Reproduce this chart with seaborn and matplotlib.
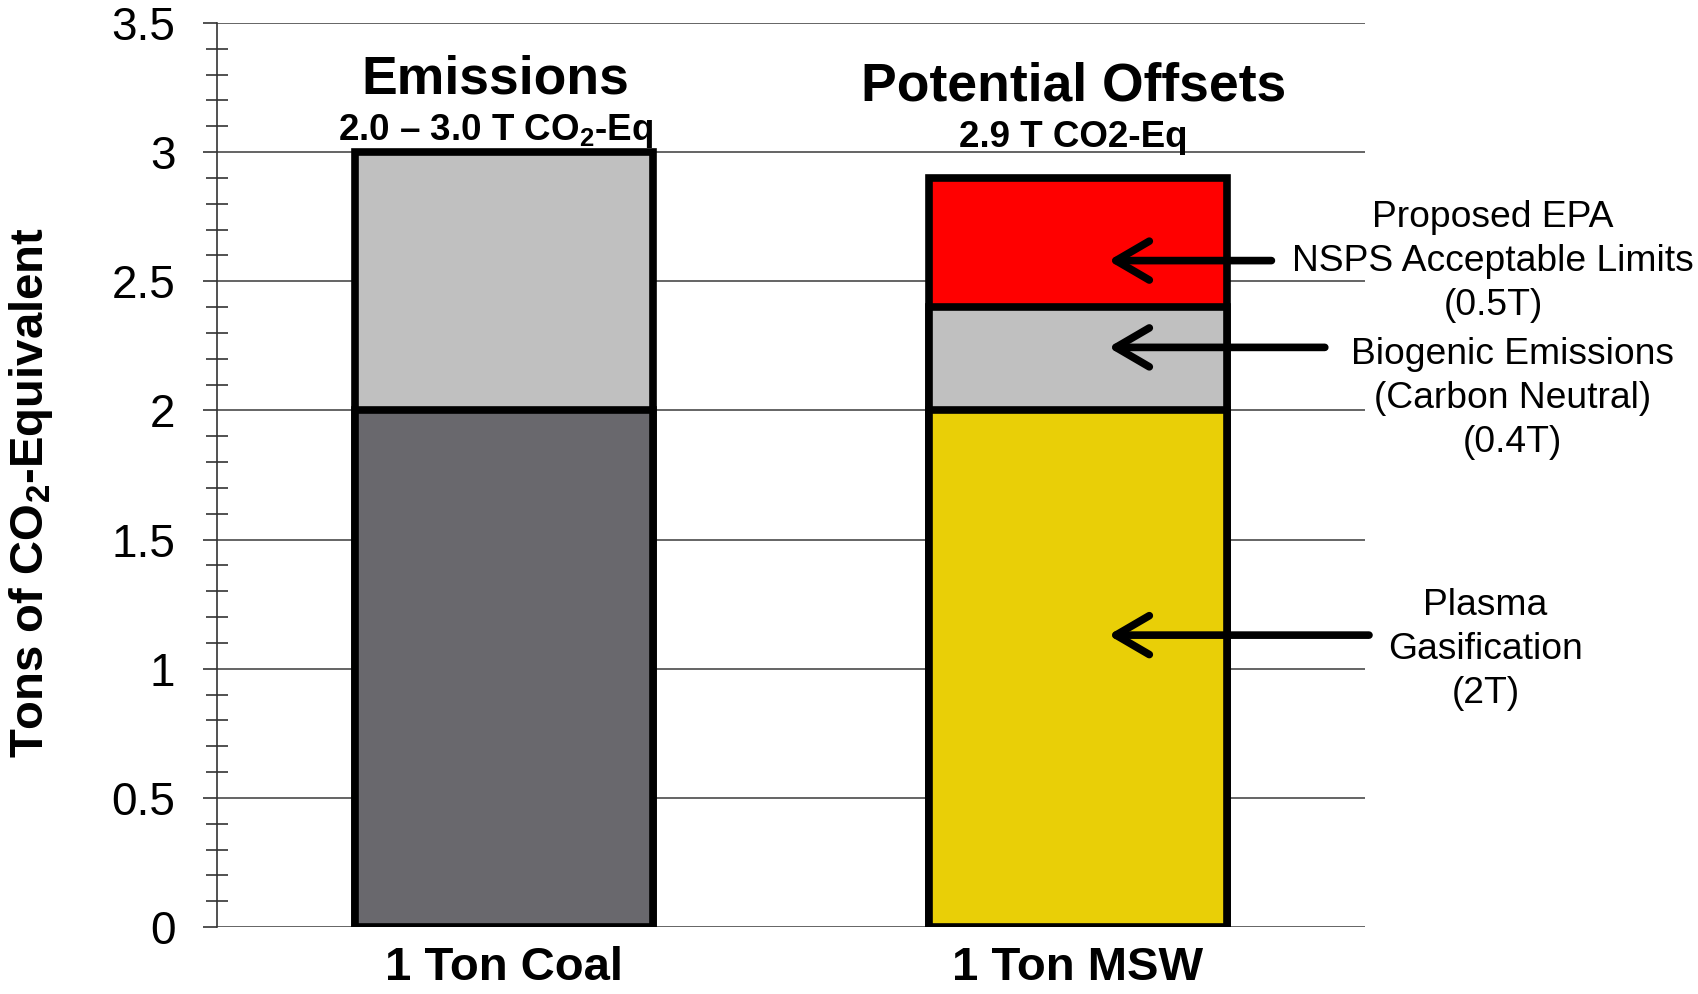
import numpy as np
import pandas as pd
import matplotlib
matplotlib.use('Agg')
import matplotlib.pyplot as plt
import seaborn as sns
from matplotlib.ticker import MultipleLocator

# Values
categories = ['1 Ton Coal', '1 Ton MSW']
coal_parts = [2.0, 1.0]
coal_colors = ['#69686d', '#c0c0c0']
msw_parts = [2.0, 0.4, 0.5]
msw_colors = ['#e9cf07', '#c0c0c0', '#ff0000']

yticks = [0, 0.5, 1, 1.5, 2, 2.5, 3, 3.5]
ytick_labels = ['0', '0.5', '1', '1.5', '2', '2.5', '3', '3.5']

titles = ['Emissions', 'Potential Offsets']
subtitles = [r'2.0 – 3.0 T CO$_\mathbf{2}$-Eq', '2.9 T CO2-Eq']
notes = ['Proposed EPA\nNSPS Acceptable Limits\n(0.5T)',
         'Biogenic Emissions\n(Carbon Neutral)\n(0.4T)',
         'Plasma\nGasification\n(2T)']

sns.set_style('white')
plt.rcParams['font.family'] = ['Liberation Sans', 'DejaVu Sans']
plt.rcParams['mathtext.fontset'] = 'custom'
plt.rcParams['mathtext.rm'] = 'Liberation Sans'
plt.rcParams['mathtext.bf'] = 'Liberation Sans:bold'
plt.rcParams['text.color'] = 'black'
plt.rcParams['axes.labelcolor'] = 'black'
plt.rcParams['xtick.color'] = 'black'
plt.rcParams['ytick.color'] = 'black'

# stacked segments -> cumulative tops, drawn tallest first
rows = []
for cat, parts, cols in [(categories[0], coal_parts, coal_colors),
                         (categories[1], msw_parts, msw_colors)]:
    for top, col in zip(np.cumsum(parts), cols):
        rows.append({'category': cat, 'top': top, 'color': col})
df = pd.DataFrame(rows).sort_values('top', ascending=False)

fig = plt.figure(figsize=(16.99, 9.94), dpi=100)
ax = fig.add_axes([0.1277, 0.0674, 0.6757, 0.9095])

for _, r in df.iterrows():
    sns.barplot(x=[r['category']], y=[r['top']], order=categories, color=r['color'],
                saturation=1, width=0.52, edgecolor='black', linewidth=5.5,
                errorbar=None, ax=ax, zorder=3)

ax.set_xlim(-0.5, 1.5)
ax.set_ylim(0, 3.5)
ax.set_yticks(yticks)
ax.set_yticklabels(ytick_labels, fontsize=33)
ax.yaxis.set_minor_locator(MultipleLocator(0.1))
ax.tick_params(axis='y', which='major', direction='out', length=10, width=1.2,
               color='#333333', pad=20, left=True)
ax.tick_params(axis='y', which='minor', direction='inout', length=16, width=1.2,
               color='#333333', left=True)
ax.tick_params(axis='x', length=0, pad=14)
for lbl in ax.get_xticklabels():
    lbl.set_fontsize(34)
    lbl.set_fontweight('bold')

ax.grid(axis='y', color='#3a3a3a', linewidth=1.1)
ax.set_axisbelow(True)
for s in ['top', 'right', 'bottom']:
    ax.spines[s].set_visible(False)
ax.spines['left'].set_color('#333333')
ax.spines['left'].set_linewidth(1.2)

ax.set_xlabel('')
ax.set_ylabel(r'Tons of CO$_\mathbf{2}$-Equivalent', fontsize=34, fontweight='bold', va='center')
ax.yaxis.set_label_coords(-0.162, 0.481)

# headers above the bars
ax.text(-0.015, 3.225, titles[0], ha='center', va='baseline', fontsize=38.5, fontweight='bold')
ax.text(0.992, 3.198, titles[1], ha='center', va='baseline', fontsize=38.5, fontweight='bold')
ax.text(-0.015, 3.047, subtitles[0], ha='center', va='baseline', fontsize=26.5, fontweight='bold')
ax.text(0.992, 3.019, subtitles[1], ha='center', va='baseline', fontsize=26.5, fontweight='bold')

# arrows and side notes
arrow_y = [2.58, 2.244, 1.13]
arrow_tail = [1.337, 1.43, 1.507]
note_xy = [(1.723, 2.578), (1.757, 2.047), (1.71, 1.074)]
for y, tail, (tx, ty), txt in zip(arrow_y, arrow_tail, note_xy, notes):
    ax.annotate('', xy=(1.053, y), xytext=(tail, y), annotation_clip=False,
                arrowprops=dict(arrowstyle='->,head_length=1.2,head_width=0.7',
                                lw=5.5, color='black', mutation_scale=20,
                                shrinkA=0, shrinkB=0, capstyle='round',
                                joinstyle='round'), zorder=5)
    ax.text(tx, ty, txt, ha='center', va='center', fontsize=26.8,
            linespacing=1.33, clip_on=False)

fig.savefig('out.png', dpi=100)
